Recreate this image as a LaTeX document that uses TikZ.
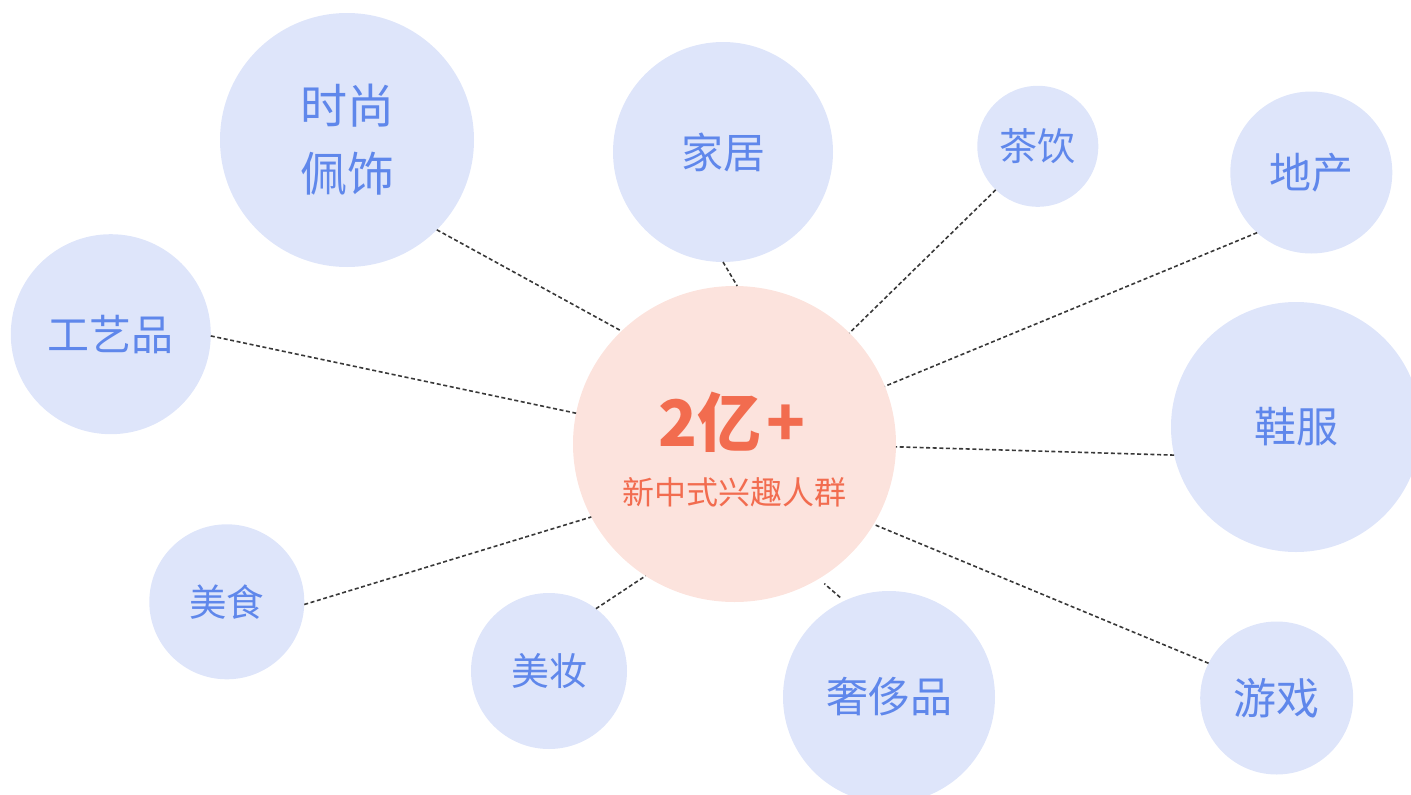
\documentclass[tikz,border=0pt]{standalone}
\usepackage{fontspec}
\setmainfont{Noto Sans CJK SC}
\usetikzlibrary{shapes.geometric}
\definecolor{bubfill}{HTML}{DEE5FA}
\definecolor{bubtext}{HTML}{5F87EB}
\definecolor{hubfill}{HTML}{FCE3DD}
\definecolor{hubtext}{HTML}{F26C4F}
\definecolor{linegray}{HTML}{383838}
\begin{document}
\begin{tikzpicture}[x=1pt,y=-1pt,
  bub/.style={circle, fill=bubfill, text=bubtext, inner sep=0pt, outer sep=0pt, align=center},
  hub/.style={ellipse, fill=hubfill, inner sep=0pt, outer sep=0pt},
  hubtxt/.style={text=hubtext, inner sep=0pt},
  link/.style={draw=linegray, line width=1.6pt, dash pattern=on 4pt off 2.6pt}]
\useasboundingbox (0,0) rectangle (1411,795);
% hub
\node[hub, minimum width=323pt, minimum height=316pt] (c) at (734.5,444) {};
\node[hubtxt, font=\fontsize{64}{64}\selectfont\bfseries] (num) at (732,422) {2亿\kern6pt+};
\node[hubtxt, font=\fontsize{32}{32}\selectfont] (sub) at (734.5,492) {新中式兴趣人群};
% bubbles
\node[bub, minimum size=254pt, font=\fontsize{47}{68}\selectfont] (ss) at (347,140) {时尚\\佩饰};
\node[bub, minimum size=220pt, font=\fontsize{42}{46}\selectfont] (jj) at (723,152) {家居};
\node[bub, minimum size=121pt, font=\fontsize{38}{42}\selectfont] (cy) at (1037.8,146.3) {茶饮};
\node[bub, minimum size=162pt, font=\fontsize{42}{46}\selectfont] (dc) at (1311.3,172.5) {地产};
\node[bub, minimum size=200pt, font=\fontsize{42}{46}\selectfont] (gy) at (110.8,334.2) {工艺品};
\node[bub, minimum size=250pt, font=\fontsize{42}{46}\selectfont] (xf) at (1296,427) {鞋服};
\node[bub, minimum size=155pt, font=\fontsize{37.5}{42}\selectfont] (ms) at (226.8,601.8) {美食};
\node[bub, minimum size=156pt, font=\fontsize{38}{42}\selectfont] (mz) at (549,671) {美妆};
\node[bub, minimum size=212pt, font=\fontsize{42}{46}\selectfont] (sc) at (889,697) {奢侈品};
\node[bub, minimum size=153pt, font=\fontsize{43}{46}\selectfont] (yx) at (1276.7,698) {游戏};
% links
\draw[link] (ss.-45) -- (c.135.6);
\draw[link] (jj.-90) -- (c.89.5);
\draw[link] (cy.-134.3) -- (c.44.4);
\draw[link] (dc.-132.1) -- (c.21.5);
\draw[link] (gy.-1.7) -- (c.169.8);
\draw[link] (xf.-167.2) -- (c.-1.4);
\draw[link] (ms.-2.2) -- (c.-153.2);
\draw[link] (mz.53.4) -- (c.-124.8);
\draw[link, shorten <=5.3pt, shorten >=7.4pt] (sc.115.8) -- (c.-58.1);
\draw[link] (yx.153.8) -- (c.-30.2);
\end{tikzpicture}
\end{document}
